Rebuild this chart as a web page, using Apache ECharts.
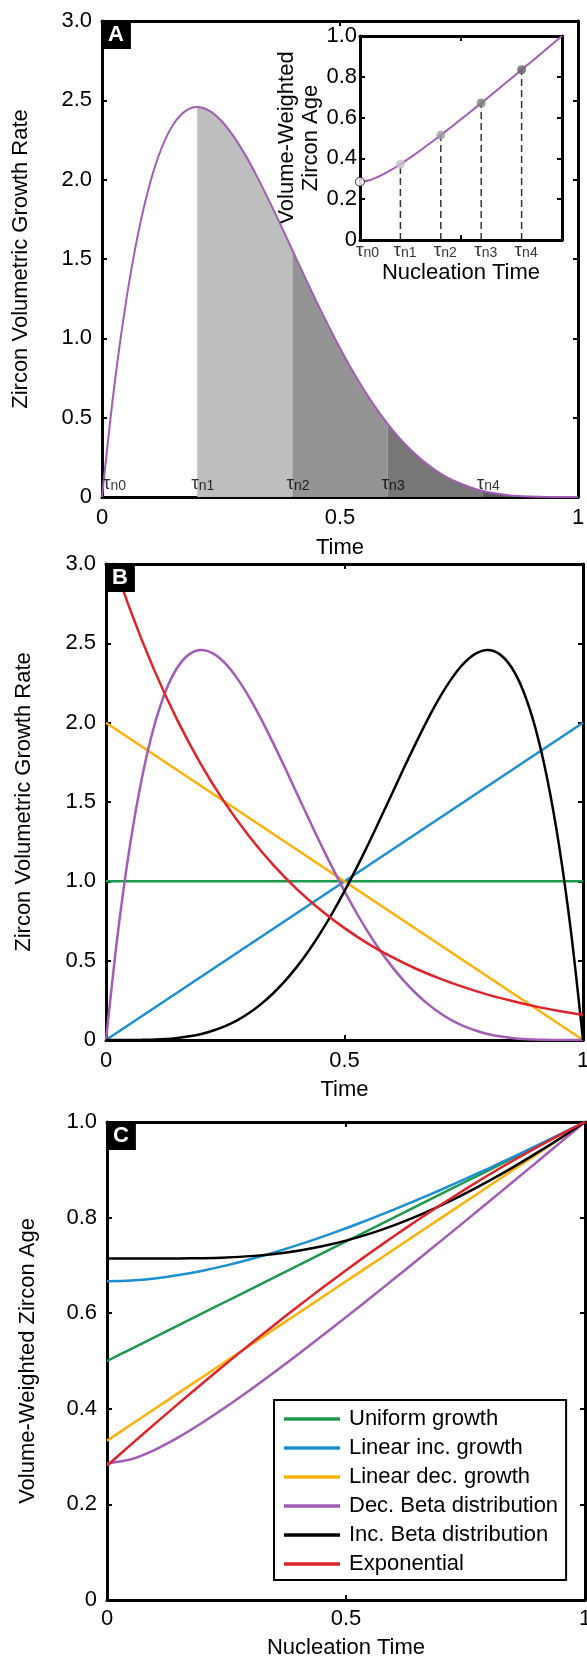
<!DOCTYPE html>
<html>
<head>
<meta charset="utf-8">
<script src="https://cdn.jsdelivr.net/npm/echarts@6/dist/echarts.min.js"></script>
<style>
  html, body { margin: 0; padding: 0; background: #fff; }
  #chart { width: 587px; height: 1659px; }
</style>
</head>
<body>
<div id="chart"></div>
<script>
// ---- data -------------------------------------------------------------
// growth-rate curves (panels A and B)
const timeFine = [0, 0.025, 0.05, 0.075, 0.1, 0.125, 0.15, 0.175, 0.2, 0.225, 0.25, 0.275, 0.3, 0.325, 0.35, 0.375, 0.4,
  0.425, 0.45, 0.475, 0.5, 0.525, 0.55, 0.575, 0.6, 0.625, 0.65, 0.675, 0.7, 0.725, 0.75, 0.775, 0.8, 0.825, 0.85, 0.875,
  0.9, 0.925, 0.95, 0.975, 1];
const decBetaRate = [0, 0.678, 1.222, 1.647, 1.968, 2.198, 2.349, 2.432, 2.458, 2.435, 2.373, 2.279, 2.161, 2.024, 1.874,
  1.717, 1.555, 1.394, 1.235, 1.083, 0.938, 0.802, 0.677, 0.563, 0.461, 0.371, 0.293, 0.226, 0.170, 0.124, 0.088, 0.060,
  0.038, 0.023, 0.013, 0.006, 0.003, 0.001, 0, 0, 0];
const incBetaRate = [0, 0, 0, 0.001, 0.003, 0.006, 0.013, 0.023, 0.038, 0.060, 0.088, 0.124, 0.170, 0.226, 0.293, 0.371,
  0.461, 0.563, 0.677, 0.802, 0.938, 1.083, 1.235, 1.394, 1.555, 1.717, 1.874, 2.024, 2.161, 2.279, 2.373, 2.435, 2.458,
  2.432, 2.349, 2.198, 1.968, 1.647, 1.222, 0.678, 0];
const timeCoarse = [0, 0.05, 0.1, 0.15, 0.2, 0.25, 0.3, 0.35, 0.4, 0.45, 0.5, 0.55, 0.6, 0.65, 0.7, 0.75, 0.8, 0.85, 0.9, 0.95, 1];
const expRate = [3.157, 2.717, 2.339, 2.013, 1.733, 1.491, 1.284, 1.105, 0.951, 0.819, 0.705, 0.606, 0.522, 0.449, 0.387,
  0.333, 0.286, 0.247, 0.212, 0.183, 0.157];
const timeEnds = [0, 1];
const uniformRate = [1, 1];
const linIncRate = [0, 2];
const linDecRate = [2, 0];

// volume-weighted zircon ages (panel C and inset)
const nucTime = [0, 0.05, 0.1, 0.15, 0.2, 0.25, 0.3, 0.35, 0.4, 0.45, 0.5, 0.55, 0.6, 0.65, 0.7, 0.75, 0.8, 0.85, 0.9, 0.95, 1];
const uniformAge = [0.5, 0.525, 0.55, 0.575, 0.6, 0.625, 0.65, 0.675, 0.7, 0.725, 0.75, 0.775, 0.8, 0.825, 0.85, 0.875,
  0.9, 0.925, 0.95, 0.975, 1];
const linIncAge = [0.6667, 0.6683, 0.6727, 0.6797, 0.6889, 0.7, 0.7128, 0.7272, 0.7429, 0.7598, 0.7778, 0.7968, 0.8167,
  0.8374, 0.8588, 0.881, 0.9037, 0.927, 0.9509, 0.9752, 1];
const linDecAge = [0.3333, 0.3667, 0.4, 0.4333, 0.4667, 0.5, 0.5333, 0.5667, 0.6, 0.6333, 0.6667, 0.7, 0.7333, 0.7667,
  0.8, 0.8333, 0.8667, 0.9, 0.9333, 0.9667, 1];
const decBetaAge = [0.2857, 0.2943, 0.3143, 0.3408, 0.3714, 0.4048, 0.44, 0.4766, 0.5143, 0.5528, 0.5918, 0.6314, 0.6714,
  0.7118, 0.7524, 0.7932, 0.8343, 0.8755, 0.9169, 0.9584, 1];
const incBetaAge = [0.7143, 0.7143, 0.7143, 0.7145, 0.7152, 0.7167, 0.7194, 0.724, 0.7308, 0.74, 0.7519, 0.7665, 0.7838,
  0.8037, 0.8261, 0.8507, 0.8773, 0.9057, 0.9358, 0.9672, 1];
const expAge = [0.2809, 0.325, 0.3685, 0.4113, 0.4535, 0.495, 0.5357, 0.5755, 0.6145, 0.6526, 0.6897, 0.7259, 0.7609,
  0.7949, 0.8278, 0.8595, 0.8901, 0.9194, 0.9475, 0.9742, 1];

// nucleation times marked in panel A
const tauTimes = [0, 0.2, 0.4, 0.6, 0.8];
const tauSubs = ['n0', 'n1', 'n2', 'n3', 'n4'];

// tick labels
const rateTickLabels = ['0', '0.5', '1.0', '1.5', '2.0', '2.5', '3.0'];
const ageTickLabels = ['0', '0.2', '0.4', '0.6', '0.8', '1.0'];
const timeTickLabels = ['0', '0.5', '1'];

const legendNames = ['Uniform growth', 'Linear inc. growth', 'Linear dec. growth',
  'Dec. Beta distribution', 'Inc. Beta distribution', 'Exponential'];

// ---- styling ----------------------------------------------------------
const FONT = '"Liberation Sans", Arial, Helvetica, sans-serif';
const C = {
  uniform: '#1d9a4c', linInc: '#1b8fd1', linDec: '#fdb109',
  decBeta: '#a35cb6', incBeta: '#000000', exp: '#e0232b'
};
const shadeColors = ['#bebebe', '#949494', '#777777', '#5b5b5b'];
const markerColors = ['#ffffff', '#c4c4c4', '#9d9d9d', '#808080', '#646464'];

const zip = (xs, ys) => xs.map((x, i) => [x, ys[i]]);

function valueAxis(opts) {
  return Object.assign({
    type: 'value',
    axisLine: { show: true, onZero: false, lineStyle: { color: '#000', width: 3 } },
    axisTick: { show: true, inside: true, length: 5, lineStyle: { color: '#000', width: 2 } },
    splitLine: { show: false },
    axisLabel: { show: false },
    nameTextStyle: { color: '#000', fontSize: 22, fontFamily: FONT, lineHeight: 22 }
  }, opts);
}
function labels(list, margin) {
  return {
    show: true, margin: margin, color: '#000', fontSize: 22, fontFamily: FONT,
    formatter: (v, i) => (list[i] !== undefined ? list[i] : '')
  };
}

const tauRich = {
  t: { fontFamily: FONT, fontSize: 19, lineHeight: 19, verticalAlign: 'top', padding: [0, 0, 7, 0], color: '#000' },
  s: { fontFamily: FONT, fontSize: 14, lineHeight: 14, verticalAlign: 'bottom', color: '#000' }
};
const tauText = i => '{t|τ}{s|' + tauSubs[i] + '}';

// ---- grids ------------------------------------------------------------
const grids = [
  { left: 102, top: 21, width: 476, height: 476, outerBoundsMode: 'none' },   // A
  { left: 360, top: 36, width: 202, height: 204, outerBoundsMode: 'none' },   // inset
  { left: 106, top: 564, width: 477, height: 476, outerBoundsMode: 'none' },  // B
  { left: 107, top: 1122, width: 478, height: 478, outerBoundsMode: 'none' }  // C
];

const xAxes = [
  valueAxis({ gridIndex: 0, position: 'bottom', min: 0, max: 1, interval: 0.5, axisLabel: labels(timeTickLabels, 10),
    name: 'Time', nameLocation: 'middle', nameGap: 40 }),
  valueAxis({ gridIndex: 0, position: 'top', min: 0, max: 1, interval: 0.5 }),
  valueAxis({ gridIndex: 1, position: 'bottom', min: 0, max: 1, interval: 0.5,
    name: 'Nucleation Time', nameLocation: 'middle', nameGap: 22 }),
  valueAxis({ gridIndex: 1, position: 'top', min: 0, max: 1, interval: 0.5 }),
  valueAxis({ gridIndex: 2, position: 'bottom', min: 0, max: 1, interval: 0.5, axisLabel: labels(timeTickLabels, 10),
    name: 'Time', nameLocation: 'middle', nameGap: 39 }),
  valueAxis({ gridIndex: 2, position: 'top', min: 0, max: 1, interval: 0.5 }),
  valueAxis({ gridIndex: 3, position: 'bottom', min: 0, max: 1, interval: 0.5, axisLabel: labels(timeTickLabels, 8),
    name: 'Nucleation Time', nameLocation: 'middle', nameGap: 37 }),
  valueAxis({ gridIndex: 3, position: 'top', min: 0, max: 1, interval: 0.5 })
];
const yAxes = [
  valueAxis({ gridIndex: 0, position: 'left', min: 0, max: 3, interval: 0.5, axisLabel: labels(rateTickLabels, 10),
    name: 'Zircon Volumetric Growth Rate', nameLocation: 'middle', nameGap: 70 }),
  valueAxis({ gridIndex: 0, position: 'right', min: 0, max: 3, interval: 0.5 }),
  valueAxis({ gridIndex: 1, position: 'left', min: 0, max: 1, interval: 0.2, axisLabel: labels(ageTickLabels, 3),
    name: 'Volume-Weighted\nZircon Age', nameLocation: 'middle', nameGap: 31,
    nameTextStyle: { color: '#000', fontSize: 22, fontFamily: FONT, lineHeight: 24 } }),
  valueAxis({ gridIndex: 1, position: 'right', min: 0, max: 1, interval: 0.2 }),
  valueAxis({ gridIndex: 2, position: 'left', min: 0, max: 3, interval: 0.5, axisLabel: labels(rateTickLabels, 10),
    name: 'Zircon Volumetric Growth Rate', nameLocation: 'middle', nameGap: 71 }),
  valueAxis({ gridIndex: 2, position: 'right', min: 0, max: 3, interval: 0.5 }),
  valueAxis({ gridIndex: 3, position: 'left', min: 0, max: 1, interval: 0.2, axisLabel: labels(ageTickLabels, 10),
    name: 'Volume-Weighted Zircon Age', nameLocation: 'middle', nameGap: 68 }),
  valueAxis({ gridIndex: 3, position: 'right', min: 0, max: 1, interval: 0.2 })
];

// ---- series -----------------------------------------------------------
function curve(name, xs, ys, color, xi, yi, width) {
  return {
    type: 'line', name: name, xAxisIndex: xi, yAxisIndex: yi,
    data: zip(xs, ys), symbol: 'none', smooth: 0.3, z: 3,
    lineStyle: { color: color, width: width }, itemStyle: { color: color },
    emphasis: { disabled: true }
  };
}

const series = [];

// panel A: shaded slices under the decreasing Beta curve
const decBetaPts = zip(timeFine, decBetaRate);
tauTimes.slice(1).forEach((lo, k) => {
  const hi = k + 2 < tauTimes.length ? tauTimes[k + 2] : 1;
  series.push({
    type: 'line', xAxisIndex: 0, yAxisIndex: 0, symbol: 'none', smooth: 0.3, z: 1,
    data: decBetaPts.filter(p => p[0] >= lo - 1e-9 && p[0] <= hi + 1e-9),
    lineStyle: { width: 0 }, areaStyle: { color: shadeColors[k], opacity: 1 },
    emphasis: { disabled: true }, silent: true
  });
});
series.push(curve('Dec. Beta distribution', timeFine, decBetaRate, C.decBeta, 0, 0, 2));
series.push({
  type: 'scatter', xAxisIndex: 0, yAxisIndex: 0, symbolSize: 1, clip: false, z: 5, silent: true,
  itemStyle: { color: 'rgba(0,0,0,0)' },
  data: tauTimes.map((t, i) => ({ value: [t, 0], label: { offset: [i === 0 ? 1 : -6, 0] } })),
  label: {
    show: true, position: 'top', align: 'left', distance: 3, rich: tauRich,
    formatter: p => tauText(p.dataIndex)
  }
});

// inset: age curve, drop lines and markers
series.push(curve('Dec. Beta distribution', nucTime, decBetaAge, C.decBeta, 2, 2, 2));
tauTimes.slice(1).forEach(t => {
  const age = decBetaAge[nucTime.indexOf(t)];
  series.push({
    type: 'line', xAxisIndex: 2, yAxisIndex: 2, symbol: 'none', z: 2, silent: true,
    data: [[t, 0], [t, age]],
    lineStyle: { color: '#333', width: 1.5, type: [7, 4] }
  });
});
series.push({
  type: 'scatter', xAxisIndex: 2, yAxisIndex: 2, symbolSize: 9, clip: false, z: 6, silent: true,
  data: tauTimes.map((t, i) => ({
    value: [t, decBetaAge[nucTime.indexOf(t)]],
    itemStyle: { color: markerColors[i], borderColor: i === 0 ? '#000' : markerColors[i], borderWidth: i === 0 ? 1 : 0 }
  }))
});
series.push({
  type: 'scatter', xAxisIndex: 2, yAxisIndex: 2, symbolSize: 1, clip: false, z: 5, silent: true,
  itemStyle: { color: 'rgba(0,0,0,0)' },
  data: tauTimes.map((t, i) => ({ value: [t, 0], label: { offset: [i === 0 ? -4 : -7, 0] } })),
  label: {
    show: true, position: 'bottom', align: 'left', distance: 1, rich: tauRich,
    formatter: p => tauText(p.dataIndex)
  }
});

// panel B: growth-rate models
series.push(curve('Uniform growth', timeEnds, uniformRate, C.uniform, 4, 4, 2.5));
series.push(curve('Linear inc. growth', timeEnds, linIncRate, C.linInc, 4, 4, 2.5));
series.push(curve('Linear dec. growth', timeEnds, linDecRate, C.linDec, 4, 4, 2.5));
series.push(curve('Dec. Beta distribution', timeFine, decBetaRate, C.decBeta, 4, 4, 2.5));
series.push(curve('Inc. Beta distribution', timeFine, incBetaRate, C.incBeta, 4, 4, 2.5));
series.push(curve('Exponential', timeCoarse, expRate, C.exp, 4, 4, 2.5));

// panel C: volume-weighted ages
series.push(curve('Uniform growth', nucTime, uniformAge, C.uniform, 6, 6, 2.5));
series.push(curve('Linear inc. growth', nucTime, linIncAge, C.linInc, 6, 6, 2.5));
series.push(curve('Linear dec. growth', nucTime, linDecAge, C.linDec, 6, 6, 2.5));
series.push(curve('Dec. Beta distribution', nucTime, decBetaAge, C.decBeta, 6, 6, 2.5));
series.push(curve('Inc. Beta distribution', nucTime, incBetaAge, C.incBeta, 6, 6, 2.5));
series.push(curve('Exponential', nucTime, expAge, C.exp, 6, 6, 2.5));

// panel tags
const tag = (text, left, top) => ({
  text: text, left: left, top: top, backgroundColor: '#000', padding: [4, 7, 3, 7],
  textStyle: { color: '#fff', fontSize: 22, fontWeight: 'bold', fontFamily: FONT, lineHeight: 22 }
});

const chart = echarts.init(document.getElementById('chart'), null, { renderer: 'canvas' });
chart.setOption({
  animation: false,
  backgroundColor: '#fff',
  textStyle: { fontFamily: FONT, color: '#000' },
  title: [tag('A', 101, 20), tag('B', 105, 563), tag('C', 106, 1121)],
  grid: grids,
  xAxis: xAxes,
  yAxis: yAxes,
  legend: {
    data: legendNames, orient: 'vertical', left: 274, top: 1400,
    icon: 'rect', itemWidth: 56, itemHeight: 3.5, itemGap: 7,
    padding: [8, 8, 5, 10], borderColor: '#000', borderWidth: 2, backgroundColor: '#fff',
    selectedMode: false,
    textStyle: { color: '#000', fontSize: 22, fontFamily: FONT, lineHeight: 22, padding: [0, 0, 0, 4] }
  },
  series: series
});
</script>
</body>
</html>
